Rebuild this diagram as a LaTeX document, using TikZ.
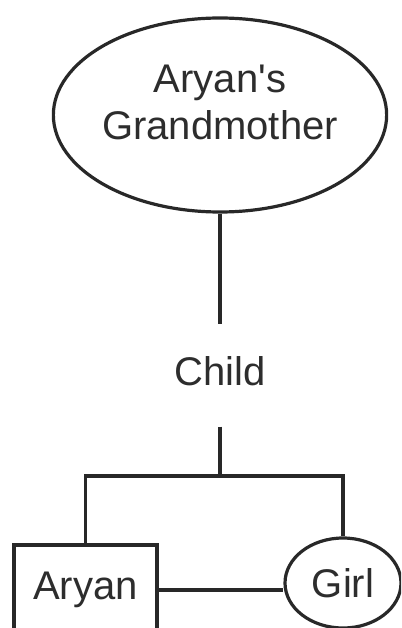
\documentclass[tikz,border=0pt]{standalone}
\usepackage{fontspec}
\setmainfont{Liberation Sans}
\usetikzlibrary{shapes.geometric,calc,positioning}

\begin{document}
\begin{tikzpicture}[x=1pt, y=-1pt, line width=3.2pt]
	% Colores
	\definecolor{linea}{RGB}{40,40,40} % Gris oscuro de los trazos
	\definecolor{texto}{RGB}{45,45,45} % Gris oscuro del texto

	% --- Marco de la imagen ---
	\useasboundingbox (0,0) rectangle (401,628);
	\clip (0,0) rectangle (401,628);

	% --- Estilos ---
	\tikzset{
		etiqueta/.style={text=texto, inner sep=0pt, font=\fontsize{40}{47}\selectfont},
		elipse/.style={etiqueta, draw=linea, ellipse},
		caja/.style={etiqueta, draw=linea, rectangle},
		enlace/.style={draw=linea}
	}

	% --- Personas ---
	\node[elipse, minimum width=290pt, minimum height=194pt, align=center] (abuela) at (220,115) {Aryan\textquotesingle s\\Grandmother\rule[-25pt]{0pt}{0pt}};
	\node[etiqueta, text depth=10pt, inner ysep=30pt, anchor=base] (hijo) at (220,385) {Child};
	\node[caja, minimum width=143pt, minimum height=90pt] (aryan) at (85.5,590) {Aryan};
	\node[elipse, minimum width=116pt, minimum height=90pt] (nina) at (343,583) {Girl};

	% Punto donde se reparte la rama
	\coordinate (union) at (220,476);

	% --- Conexiones ---
	\draw[enlace] (abuela) -- (hijo);
	\draw[enlace] (hijo) -- (union);
	\draw[enlace] (aryan.north) -- (aryan.north |- union) -- (nina.north |- union) -- (nina.north);
	\draw[enlace] (aryan) -- (aryan -| nina.west);
\end{tikzpicture}
\end{document}
